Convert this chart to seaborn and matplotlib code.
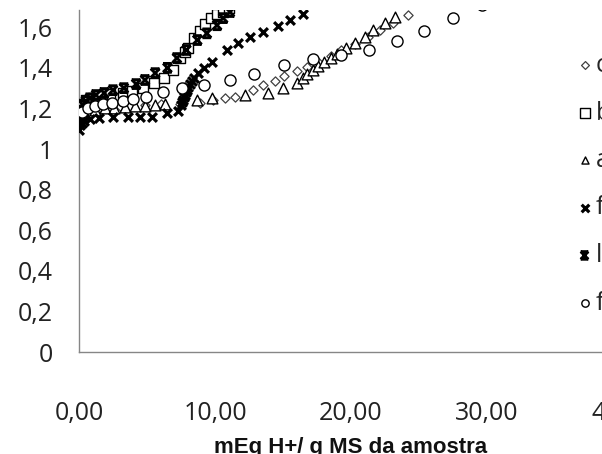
import numpy as np
import pandas as pd
import seaborn as sns
import matplotlib.pyplot as plt
from matplotlib.markers import MarkerStyle
from matplotlib.path import Path

sns.set_style('white')
plt.rcParams['font.family'] = ['Open Sans', 'DejaVu Sans']

# series (x: mEq H+/g MS, y: absorbance-like value)
c_x = [0.07, 0.37, 0.66, 1.0, 1.5, 2.3, 3.0, 3.75, 4.85, 6.0, 7.4, 8.9, 9.85, 10.7, 11.5,
       12.8, 13.5, 14.4, 15.1, 16.0, 16.8, 17.6, 18.5, 19.3, 20.3, 21.25, 22.1, 23.1, 24.2]
c_y = [1.14, 1.167, 1.18, 1.19, 1.20, 1.207, 1.21, 1.21, 1.217, 1.22, 1.22, 1.227, 1.24, 1.25, 1.256,
       1.29, 1.315, 1.335, 1.36, 1.384, 1.404, 1.43, 1.458, 1.488, 1.517, 1.55, 1.586, 1.62, 1.66]

b_x = [0.0, 0.2, 0.5, 1.0, 1.5, 2.3, 3.2, 3.9, 4.7, 5.5, 6.25, 6.9, 7.4, 7.8, 8.0,
       8.45, 8.9, 9.3, 9.7, 10.15, 10.6, 11.0]
b_y = [1.20, 1.22, 1.24, 1.25, 1.26, 1.27, 1.275, 1.285, 1.30, 1.325, 1.35, 1.39, 1.45, 1.48, 1.50,
       1.545, 1.58, 1.615, 1.645, 1.665, 1.675, 1.695]

a_x = [0.07, 0.4, 1.2, 1.9, 2.6, 3.4, 4.1, 4.85, 5.6, 6.3, 8.7, 9.8, 12.2, 13.9, 15.0,
       16.0, 16.5, 16.8, 17.2, 17.6, 18.0, 18.5, 19.0, 19.6, 20.3, 21.0, 21.6, 22.5, 23.2]
a_y = [1.167, 1.18, 1.19, 1.20, 1.20, 1.207, 1.21, 1.21, 1.217, 1.22, 1.24, 1.25, 1.266, 1.276, 1.30,
       1.325, 1.35, 1.37, 1.39, 1.41, 1.43, 1.45, 1.47, 1.50, 1.52, 1.55, 1.586, 1.62, 1.65]

f_x = [0.0, 0.07, 0.2, 0.4, 0.8, 1.5, 2.5, 3.6, 4.5, 5.4, 6.5, 7.3, 7.5, 7.58, 7.65,
       7.72, 7.8, 7.88, 7.95, 8.05, 8.15, 8.3, 8.45, 8.75, 9.2, 9.8, 10.9, 11.7, 12.6,
       13.5, 14.6, 15.5, 16.5]
f_y = [1.094, 1.12, 1.13, 1.14, 1.15, 1.153, 1.157, 1.157, 1.16, 1.157, 1.177, 1.187, 1.217, 1.23, 1.24,
       1.255, 1.266, 1.28, 1.29, 1.305, 1.32, 1.335, 1.35, 1.374, 1.40, 1.43, 1.49, 1.52, 1.55,
       1.575, 1.605, 1.635, 1.665]

l_x = [0.0, 0.07, 0.15, 0.3, 0.5, 0.8, 1.25, 1.85, 2.5, 3.3, 4.2, 4.85, 5.6, 6.5, 7.2,
       7.9, 8.7, 9.4, 10.15, 10.6, 11.1]
l_y = [1.133, 1.17, 1.19, 1.217, 1.236, 1.25, 1.266, 1.276, 1.29, 1.30, 1.32, 1.34, 1.374, 1.40, 1.448,
       1.488, 1.537, 1.57, 1.61, 1.645, 1.675]

o_x = [0.2, 0.66, 1.2, 1.76, 2.4, 3.2, 4.0, 4.9, 6.2, 7.6, 9.2, 11.1, 12.9, 15.1, 17.2,
       19.3, 21.3, 23.4, 25.4, 27.5, 29.6]
o_y = [1.18, 1.20, 1.21, 1.22, 1.227, 1.236, 1.246, 1.256, 1.28, 1.30, 1.315, 1.34, 1.37, 1.414, 1.443,
       1.463, 1.49, 1.53, 1.58, 1.645, 1.71]

labels = ['c', 'b', 'a', 'f', 'l', 'f']
x_ticks = [0, 10, 20, 30, 40]
y_ticks = [0, 0.2, 0.4, 0.6, 0.8, 1.0, 1.2, 1.4, 1.6]

# x with little bars on top and bottom (Excel "star" look)
star = Path([(-1, -1), (1, 1), (-1, 1), (1, -1), (-1, 1), (1, 1), (-1, -1), (1, -1)],
            [Path.MOVETO, Path.LINETO, Path.MOVETO, Path.LINETO,
             Path.MOVETO, Path.LINETO, Path.MOVETO, Path.LINETO])
star_marker = MarkerStyle(star, fillstyle='none')

fig = plt.figure(figsize=(6.02, 4.54), dpi=100)
ax = fig.add_axes([79 / 602, 102 / 454, 544 / 602, 342 / 454])

open_kw = dict(color='black', facecolor='white', zorder=3)
sns.scatterplot(x=c_x, y=c_y, ax=ax, marker='D', s=22, edgecolor='#404040', linewidth=0.9,
                label=labels[0], **open_kw)
sns.scatterplot(x=b_x, y=b_y, ax=ax, marker='s', s=44, edgecolor='black', linewidth=1.0,
                label=labels[1], **open_kw)
sns.scatterplot(x=a_x, y=a_y, ax=ax, marker='^', s=60, edgecolor='black', linewidth=1.0,
                label=labels[2], **open_kw)
sns.scatterplot(x=f_x, y=f_y, ax=ax, marker='x', s=40, color='black', linewidth=2.3,
                label=labels[3], zorder=3)
sns.scatterplot(x=l_x, y=l_y, ax=ax, marker=star_marker, s=40, color='black', linewidth=2.1,
                label=labels[4], zorder=3)
sns.scatterplot(x=o_x, y=o_y, ax=ax, marker='o', s=64, edgecolor='black', linewidth=1.0,
                label=labels[5], **open_kw)

ax.set_xlim(0, 40)
ax.set_ylim(0, 1.685)
ax.set_xticks(x_ticks)
ax.set_xticklabels([f'{v:.2f}'.replace('.', ',') for v in x_ticks])
ax.set_yticks(y_ticks)
ax.set_yticklabels([f'{v:g}'.replace('.', ',') for v in y_ticks])

for side in ['top', 'right']:
    ax.spines[side].set_visible(False)
for side in ['left', 'bottom']:
    ax.spines[side].set_color('#868686')
    ax.spines[side].set_linewidth(1.0)
ax.tick_params(axis='both', direction='out', color='#868686', width=1.0,
               labelsize=18, labelcolor='#222222')
ax.tick_params(axis='y', length=8, pad=11)
ax.tick_params(axis='x', length=7, pad=28)
ax.grid(False)

ax.set_xlabel('mEq H+/ g MS da amostra', fontsize=16, fontweight='bold',
              family=['Liberation Sans', 'DejaVu Sans'], color='#111111')
ax.xaxis.label.set_va('baseline')
ax.xaxis.set_label_coords(0.5, (1 - 102) / 342)

leg = ax.legend(loc='upper left', bbox_to_anchor=(577 / 602, 1 - 53 / 454),
                bbox_transform=fig.transFigure, frameon=False, fontsize=18,
                handlelength=0.6, handletextpad=0.15, borderpad=0, borderaxespad=0,
                labelspacing=0.9)
for h, sz in zip(leg.legend_handles, [16, 42, 26, 30, 30, 28]):
    h.set_sizes([sz])

fig.savefig('out.png', dpi=100)
